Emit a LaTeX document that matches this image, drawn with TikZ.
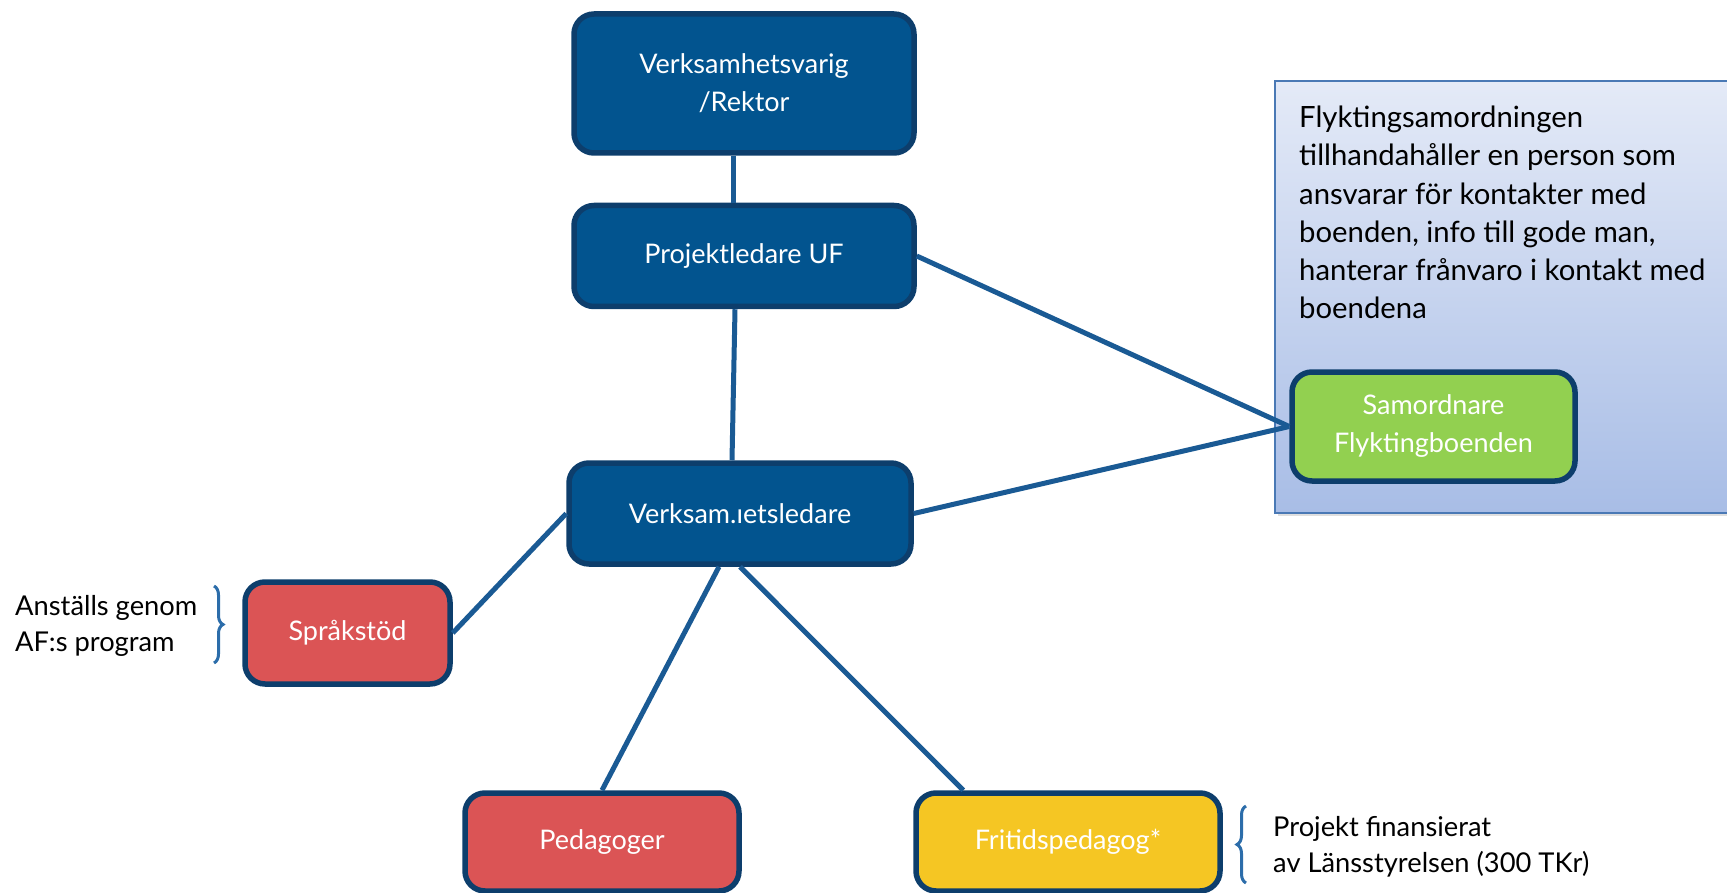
\documentclass[tikz,border=0pt]{standalone}
\usepackage{fontspec}
\setmainfont{Lato}
\usetikzlibrary{calc,decorations.pathreplacing,shadows}
\definecolor{boxblue}{HTML}{02548F}
\definecolor{edgeblue}{HTML}{0D3E6C}
\definecolor{linkblue}{HTML}{1A5A94}
\definecolor{redbox}{HTML}{DB5455}
\definecolor{yellowbox}{HTML}{F5C623}
\definecolor{greenbox}{HTML}{92D050}
\definecolor{notetop}{HTML}{E4EAF7}
\definecolor{notebot}{HTML}{A8BDE6}
\definecolor{noteedge}{HTML}{4A79B5}
\definecolor{bracecol}{HTML}{2C6DAA}
\tikzset{
  orgbox/.style={draw=edgeblue, line width=5.5pt, rounded corners=20pt, inner sep=0pt,
     text=white, align=center, font=\fontsize{27}{38}\selectfont},
  link/.style={draw=linkblue, line width=5pt},
  bracestyle/.style={draw=bracecol, line width=3pt, decorate,
     decoration={brace, amplitude=9pt, aspect=0.5}},
  sidetext/.style={align=left, inner sep=0pt, text=black, font=\fontsize{27.3}{35.5}\selectfont},
}
\begin{document}
\begin{tikzpicture}[x=1pt,y=-1pt]
\useasboundingbox (0,0) rectangle (1727,893);
\clip (0,0) rectangle (1727,893);
% note box
\node[draw=noteedge, line width=2pt, top color=notetop, bottom color=notebot,
      minimum width=470pt, minimum height=432pt, anchor=north west, inner sep=0pt,
      drop shadow={opacity=0.25, shadow xshift=3pt, shadow yshift=-3pt}] (note) at (1274,80) {};
\node[anchor=north west, align=left, inner sep=0pt, text=black,
      font=\fontsize{29.3}{38.2}\selectfont] (notetext) at (1299,106)
  {Flyktingsamordningen\\tillhandahåller en person som\\ansvarar för kontakter med\\boenden, info till gode man,\\hanterar frånvaro i kontakt med\\boendena};
% boxes
\node[orgbox, fill=boxblue, minimum width=340pt, minimum height=139pt] (top) at (744,83.5) {Verksamhetsvarig\\/Rektor};
\node[orgbox, fill=boxblue, minimum width=340pt, minimum height=101pt] (pl) at (744,256) {Projektledare UF};
\node[orgbox, fill=boxblue, minimum width=342pt, minimum height=101pt] (vl) at (740,513.5) {Verksam.ıetsledare};
\node[orgbox, fill=redbox, minimum width=205pt, minimum height=102pt] (sp) at (347.5,633) {Språkstöd};
\node[orgbox, fill=redbox, minimum width=274pt, minimum height=98pt] (ped) at (602,842) {Pedagoger};
\node[orgbox, fill=yellowbox, minimum width=304pt, minimum height=98pt] (fr) at (1068,842) {Fritidspedagog*};
\node[orgbox, fill=greenbox, minimum width=283pt, minimum height=109pt] (gr) at (1433.5,426.5) {Samordnare\\Flyktingboenden};
% connectors
\draw[link] ($(top.south)+(-11,0)$) -- ($(pl.north)+(-11,0)$);
\draw[link] ($(pl.south)+(-9,0)$) -- ($(vl.north)+(-8,0)$);
\draw[link] (pl.east) -- (gr.west);
\draw[link] (vl.east) -- (gr.west);
\draw[link] (vl.west) -- (sp.east);
\draw[link] ($(vl.south)+(-21,0)$) -- (ped.north);
\draw[link] (vl.south) -- ($(fr.north west)+(50,0)$);
% side annotations
\node[sidetext, anchor=west] (af) at (15,626) {Anställs genom\\AF:s program};
\coordinate (b1a) at (214,586);
\coordinate (b1b) at (214,663);
\draw[bracestyle] (b1a) -- (b1b);
\node[sidetext, anchor=west] (proj) at (1273,847) {Projekt finansierat\\av Länsstyrelsen (300 TKr)};
\coordinate (b2a) at (1246,883);
\coordinate (b2b) at (1246,806);
\draw[bracestyle] (b2a) -- (b2b);
\end{tikzpicture}
\end{document}
